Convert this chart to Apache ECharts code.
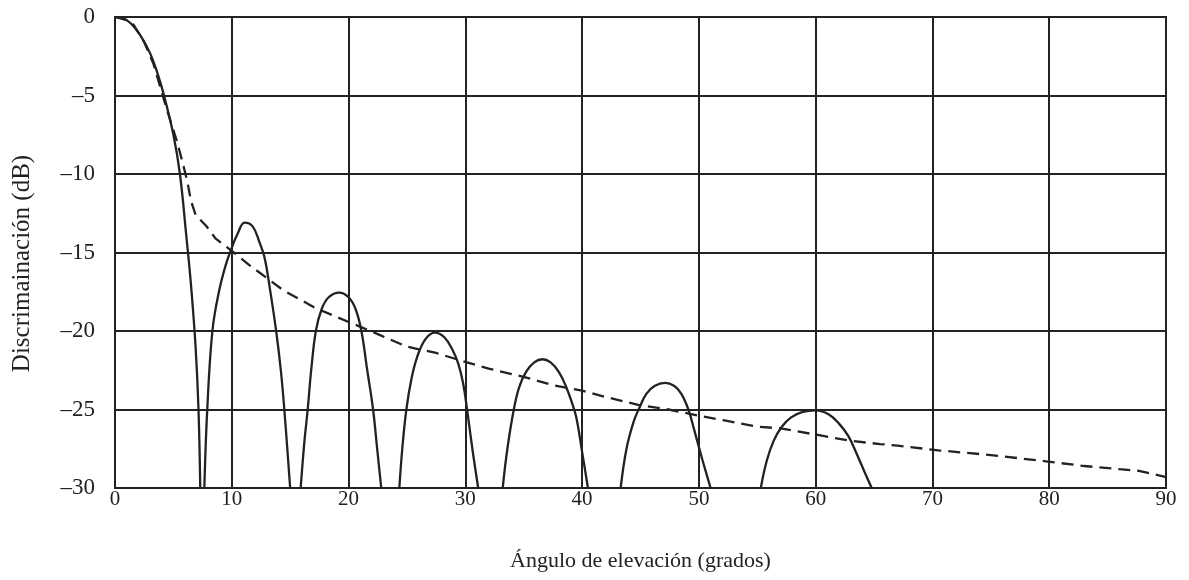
<!DOCTYPE html>
<html>
<head>
<meta charset="utf-8">
<script src="https://cdn.jsdelivr.net/npm/echarts@6/dist/echarts.min.js"></script>
<style>
  html, body { margin: 0; padding: 0; background: #fff; }
  #chart { width: 1189px; height: 580px; }
</style>
</head>
<body>
<div id="chart"></div>
<script>
// Elevation angle (degrees) vs. discrimination (dB)
const xTicks = [0, 10, 20, 30, 40, 50, 60, 70, 80, 90];
const yTicks = [0, -5, -10, -15, -20, -25, -30];

// Antenna pattern: main lobe and side lobes, each a [angle, dB] list
const mainLobe = [[0,0],[0.5,-0.05],[1,-0.2],[1.6,-0.6],[2.2,-1.2],[3,-2.3],[3.6,-3.5],[4.2,-5],[5,-7.5],[5.56,-10],[6.1,-13.9],[6.5,-17],[6.9,-21],[7.15,-25],[7.3,-30]];
const lobe1 = [[7.65,-30],[7.9,-25],[8.34,-20],[8.9,-17.5],[9.48,-15.8],[10,-14.7],[10.5,-13.8],[11.1,-13.1],[11.8,-13.35],[12.35,-14.3],[12.8,-15.3],[13.2,-17],[13.8,-20],[14.2,-22.5],[14.5,-25],[15.0,-30]];
const lobe2 = [[15.9,-30],[16.2,-27.2],[16.5,-25],[16.8,-22.5],[17.2,-20],[17.7,-18.6],[18.3,-17.85],[19.2,-17.55],[20.0,-17.85],[20.6,-18.6],[21.1,-20],[21.6,-22.5],[22.1,-25],[22.45,-27.5],[22.8,-30]];
const lobe3 = [[24.35,-30],[24.6,-27.5],[24.95,-25],[25.4,-23],[25.9,-21.6],[26.6,-20.5],[27.4,-20.1],[28.2,-20.4],[28.9,-21.2],[29.4,-22.1],[29.8,-23.3],[30.15,-25],[30.6,-27.5],[31.1,-30]];
const lobe4 = [[33.2,-30],[33.6,-27.5],[34.15,-25],[34.6,-23.6],[35.2,-22.6],[35.9,-22],[36.6,-21.8],[37.3,-22],[38.0,-22.6],[38.6,-23.5],[39.1,-24.5],[39.5,-25.5],[40,-27.7],[40.5,-30]];
const lobe5 = [[43.3,-30],[43.8,-27.5],[44.4,-25.8],[44.9,-24.9],[45.5,-24.0],[46.2,-23.5],[47.1,-23.3],[47.9,-23.5],[48.5,-24.0],[49.1,-25],[49.6,-26.3],[50.3,-28.2],[51,-30]];
const lobe6 = [[55.3,-30],[55.8,-28.3],[56.4,-27],[57.1,-26.1],[57.9,-25.5],[58.9,-25.15],[60,-25.05],[61.1,-25.3],[62,-25.9],[62.8,-26.7],[63.5,-27.8],[64.2,-29],[64.8,-30]];
const lobes = [mainLobe, lobe1, lobe2, lobe3, lobe4, lobe5, lobe6];

// Envelope (dashed)
const envelope = [[0,0],[1,-0.2],[1.6,-0.5],[2.5,-1.6],[3.3,-3],[4.4,-5.8],[5.3,-7.9],[5.8,-9.3],[6.2,-10.5],[6.5,-11.7],[6.9,-12.6],[7.8,-13.3],[8.6,-14.1],[10,-14.9],[11.5,-15.8],[14.4,-17.4],[17.2,-18.55],[20.1,-19.45],[22.5,-20.2],[25,-21],[27.5,-21.4],[29.7,-21.9],[32,-22.4],[34.9,-22.9],[37.5,-23.45],[40,-23.8],[42,-24.2],[44.8,-24.7],[47.4,-25.0],[50,-25.4],[52.2,-25.7],[55,-26.1],[57,-26.2],[60,-26.6],[63,-27],[65.5,-27.2],[67,-27.3],[70.5,-27.6],[75,-27.9],[79.7,-28.3],[83,-28.6],[86,-28.8],[87.6,-28.9],[90,-29.3]];

const ink = '#222';
const font = 'Liberation Serif, Times New Roman, serif';

const series = lobes.map(d => ({
  type: 'line',
  data: d,
  smooth: 0.4,
  showSymbol: false,
  clip: true,
  lineStyle: { color: ink, width: 2.3 },
  z: 3
}));
series.push({
  type: 'line',
  data: envelope,
  showSymbol: false,
  clip: true,
  lineStyle: { color: ink, width: 2.3, type: [12, 7] },
  z: 4
});

const chart = echarts.init(document.getElementById('chart'), null, { renderer: 'canvas' });
chart.setOption({
  animation: false,
  backgroundColor: '#fff',
  grid: { left: 115, right: 23, top: 17, bottom: 92, show: true, borderColor: ink, borderWidth: 2, containLabel: false },
  xAxis: {
    type: 'value', min: xTicks[0], max: xTicks[xTicks.length - 1], interval: 10,
    name: 'Ángulo de elevación (grados)', nameLocation: 'middle', nameGap: 62,
    nameTextStyle: { fontFamily: font, fontSize: 22, color: ink },
    axisLine: { show: true, lineStyle: { color: ink, width: 2 } },
    axisTick: { show: false },
    axisLabel: { fontFamily: font, fontSize: 21, color: ink, margin: 1 },
    splitLine: { show: true, lineStyle: { color: ink, width: 2 } }
  },
  yAxis: {
    type: 'value', min: yTicks[yTicks.length - 1], max: yTicks[0], interval: 5,
    name: 'Discrimainación (dB)', nameLocation: 'middle', nameGap: 80, nameRotate: 90,
    nameTextStyle: { fontFamily: font, fontSize: 25, color: ink, padding: [0, 22, 0, 0] },
    axisLine: { show: true, lineStyle: { color: ink, width: 2 } },
    axisTick: { show: false },
    axisLabel: { fontFamily: font, fontSize: 23, color: ink, margin: 20,
      formatter: v => String(v).replace('-', '\u2013') },
    splitLine: { show: true, lineStyle: { color: ink, width: 2 } }
  },
  series: series
});
</script>
</body>
</html>
